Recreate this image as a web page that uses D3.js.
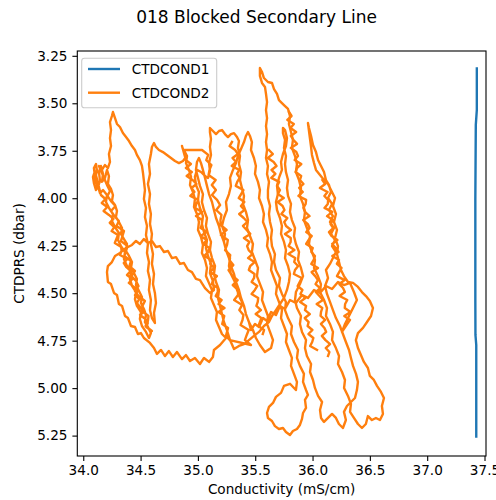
<!DOCTYPE html>
<html>
<head>
<meta charset="utf-8">
<script src="https://cdn.jsdelivr.net/npm/d3@7"></script>
<style>
  body { margin: 0; background: #fff; }
  svg { display: block; }
  text { font-family: "DejaVu Sans", sans-serif; fill: #000; }
</style>
</head>
<body>
<svg id="chart" width="496" height="500"></svg>
<script>
// ---- Data: [conductivity (mS/cm), pressure (dbar)] ----
const seriesNames = ["CTDCOND1", "CTDCOND2"];
const xTicks = [34.0, 34.5, 35.0, 35.5, 36.0, 36.5, 37.0, 37.5];
const yTicks = [3.25, 3.50, 3.75, 4.00, 4.25, 4.50, 4.75, 5.00, 5.25];

// primary sensor: nearly constant reading
const ctdcond1 = [
  [37.433, 3.316], [37.433, 3.535], [37.424, 3.614], [37.420, 4.009],
  [37.420, 4.536], [37.421, 4.720], [37.428, 4.773], [37.428, 5.255]
];

// secondary sensor, successive up/down passes of the soak
const castA = [[34.120,3.930],[34.102,3.883],[34.093,3.841],[34.111,3.820],[34.120,3.857],[34.102,3.899],[34.128,3.941],[34.146,3.909],[34.137,3.862],[34.154,3.830],[34.172,3.872],[34.163,3.914],[34.189,3.893],[34.207,3.851],[34.224,3.883],[34.215,3.925],[34.242,3.951],[34.259,3.983],[34.250,4.015],[34.277,4.036],[34.294,4.067],[34.285,4.099],[34.311,4.125],[34.338,4.157],[34.329,4.188],[34.355,4.215],[34.381,4.241],[34.373,4.278],[34.399,4.304],[34.425,4.336],[34.416,4.367],[34.442,4.394],[34.468,4.425],[34.460,4.457],[34.486,4.489],[34.512,4.520],[34.503,4.552],[34.529,4.583],[34.547,4.615],[34.538,4.652],[34.564,4.678],[34.590,4.710]];
const castB = [[34.573,4.736],[34.547,4.704],[34.512,4.673],[34.494,4.636],[34.503,4.599],[34.468,4.567],[34.451,4.531],[34.460,4.494],[34.425,4.462],[34.407,4.425],[34.416,4.389],[34.381,4.357],[34.355,4.320],[34.364,4.283],[34.329,4.252],[34.303,4.220],[34.311,4.183],[34.277,4.152],[34.250,4.120],[34.259,4.083],[34.224,4.051],[34.198,4.020],[34.207,3.983],[34.172,3.957],[34.146,3.973],[34.128,3.936],[34.111,3.957],[34.093,3.920],[34.085,3.888],[34.102,3.857]];
const castR = [[34.154,3.983],[34.193,4.004],[34.161,4.025],[34.209,4.046],[34.177,4.067],[34.224,4.088],[34.263,4.109],[34.231,4.130],[34.270,4.152],[34.247,4.173],[34.303,4.194],[34.289,4.215],[34.275,4.236],[34.331,4.257],[34.334,4.278],[34.320,4.299],[34.385,4.320],[34.353,4.341],[34.374,4.362],[34.413,4.383],[34.381,4.404],[34.428,4.425],[34.397,4.446],[34.444,4.468],[34.474,4.489],[34.451,4.510],[34.489,4.531],[34.467,4.552],[34.496,4.573],[34.535,4.594],[34.495,4.615],[34.542,4.636],[34.563,4.657],[34.549,4.678],[34.596,4.699]];
const castS = [[34.599,4.699],[34.543,4.673],[34.564,4.646],[34.569,4.620],[34.512,4.594],[34.516,4.567],[34.538,4.541],[34.482,4.515],[34.451,4.489],[34.482,4.462],[34.460,4.436],[34.420,4.410],[34.451,4.383],[34.403,4.357],[34.416,4.331],[34.359,4.304],[34.373,4.278],[34.386,4.252],[34.329,4.225],[34.342,4.199],[34.355,4.173],[34.290,4.146],[34.311,4.120],[34.272,4.094],[34.242,4.067],[34.281,4.041],[34.242,4.015],[34.211,3.988],[34.233,3.962],[34.211,3.936]];
const castC = [[34.137,3.830],[34.163,3.851],[34.189,3.825],[34.215,3.841],[34.233,3.809],[34.224,3.767],[34.242,3.725],[34.233,3.683],[34.242,3.641],[34.233,3.599],[34.250,3.567],[34.259,3.546],[34.277,3.578],[34.294,3.609],[34.320,3.625],[34.346,3.657],[34.373,3.678],[34.399,3.699],[34.425,3.725],[34.451,3.746],[34.468,3.772],[34.494,3.799],[34.512,3.830],[34.521,3.867],[34.529,3.909],[34.538,3.957],[34.529,4.004],[34.547,4.051],[34.538,4.099],[34.556,4.146],[34.547,4.194],[34.564,4.241],[34.556,4.288],[34.573,4.336],[34.564,4.383],[34.582,4.431],[34.573,4.483],[34.590,4.536],[34.582,4.589],[34.599,4.631]];
const castD = [[34.625,4.657],[34.617,4.604],[34.634,4.552],[34.625,4.499],[34.608,4.452],[34.617,4.399],[34.599,4.346],[34.608,4.294],[34.590,4.241],[34.599,4.188],[34.582,4.136],[34.590,4.083],[34.573,4.030],[34.582,3.978],[34.564,3.925],[34.582,3.872],[34.573,3.820],[34.590,3.767],[34.599,3.730],[34.617,3.709],[34.634,3.730],[34.660,3.746],[34.695,3.757],[34.730,3.772],[34.765,3.788],[34.800,3.804],[34.835,3.815],[34.870,3.804],[34.896,3.783],[34.878,3.757],[34.861,3.725]];
const castT = [[34.896,3.799],[34.939,3.820],[34.895,3.841],[34.947,3.862],[34.902,3.883],[34.954,3.904],[34.988,3.925],[34.944,3.946],[34.970,3.967],[34.934,3.988],[35.003,4.009],[34.986,4.030],[34.976,4.051],[35.036,4.072],[34.983,4.094],[35.036,4.115],[35.035,4.136],[35.025,4.157],[35.077,4.178],[35.024,4.199],[35.076,4.220],[35.049,4.241],[35.101,4.262],[35.091,4.283],[35.056,4.304],[35.117,4.325],[35.107,4.346],[35.142,4.367],[35.106,4.389],[35.166,4.410],[35.131,4.431],[35.122,4.452],[35.173,4.473],[35.173,4.494],[35.155,4.515],[35.207,4.536],[35.180,4.557],[35.232,4.578],[35.179,4.599],[35.230,4.620],[35.221,4.641],[35.212,4.662],[35.263,4.683],[35.254,4.704],[35.245,4.725],[35.279,4.747]];
const castU = [[35.463,4.773],[35.410,4.747],[35.426,4.720],[35.443,4.694],[35.372,4.668],[35.389,4.641],[35.397,4.615],[35.361,4.589],[35.386,4.562],[35.316,4.536],[35.350,4.510],[35.349,4.483],[35.304,4.457],[35.347,4.431],[35.294,4.404],[35.267,4.378],[35.309,4.352],[35.274,4.325],[35.282,4.299],[35.237,4.273],[35.254,4.246],[35.261,4.220],[35.200,4.194],[35.251,4.167],[35.198,4.141],[35.197,4.115],[35.205,4.088],[35.160,4.062],[35.194,4.036],[35.167,4.009],[35.123,3.983],[35.157,3.957],[35.121,3.930],[35.155,3.904],[35.093,3.878],[35.101,3.851],[35.118,3.825],[35.073,3.799],[35.090,3.772],[35.036,3.746]];
const castE = [[34.878,3.746],[34.905,3.778],[34.896,3.815],[34.922,3.851],[34.940,3.888],[34.931,3.930],[34.957,3.967],[34.974,4.004],[34.966,4.046],[34.992,4.083],[35.009,4.125],[35.001,4.167],[35.027,4.204],[35.044,4.246],[35.035,4.288],[35.062,4.325],[35.079,4.367],[35.070,4.410],[35.097,4.447],[35.123,4.483],[35.114,4.525],[35.140,4.562],[35.166,4.599],[35.158,4.641],[35.184,4.678],[35.210,4.715],[35.245,4.736]];
const castF = [[35.193,4.773],[35.140,4.799],[35.131,4.836],[35.097,4.862],[35.053,4.841],[35.018,4.873],[34.974,4.841],[34.931,4.857],[34.896,4.826],[34.861,4.847],[34.817,4.810],[34.782,4.836],[34.747,4.805],[34.713,4.831],[34.678,4.799],[34.643,4.820],[34.617,4.789],[34.582,4.762],[34.529,4.736],[34.503,4.710],[34.477,4.715],[34.451,4.678],[34.416,4.673],[34.390,4.631],[34.364,4.620],[34.338,4.567],[34.311,4.557],[34.294,4.510],[34.268,4.499],[34.242,4.452],[34.215,4.441],[34.207,4.389],[34.215,4.357],[34.250,4.336],[34.277,4.304],[34.320,4.288],[34.373,4.262]];
const castG = [[34.425,4.246],[34.460,4.225],[34.494,4.241],[34.529,4.215],[34.564,4.236],[34.599,4.225],[34.634,4.257],[34.669,4.252],[34.704,4.283],[34.739,4.278],[34.774,4.315],[34.809,4.310],[34.844,4.346],[34.878,4.341],[34.913,4.378],[34.948,4.389],[34.983,4.425],[35.018,4.431],[35.062,4.473],[35.105,4.499],[35.140,4.483],[35.131,4.436],[35.105,4.394],[35.114,4.346],[35.088,4.304],[35.070,4.262],[35.079,4.220],[35.053,4.178],[35.035,4.136],[35.044,4.094],[35.018,4.051],[35.001,4.009],[35.009,3.967],[34.983,3.930],[34.974,3.888],[34.992,3.851],[35.027,3.862],[35.062,3.883],[35.088,3.893],[35.105,3.856],[35.097,3.814],[35.114,3.772],[35.105,3.730],[35.114,3.688],[35.105,3.651],[35.105,3.630]];
const castH = [[35.131,3.646],[35.158,3.662],[35.184,3.646],[35.210,3.641],[35.236,3.662],[35.262,3.678],[35.288,3.662],[35.315,3.657],[35.341,3.678],[35.358,3.699],[35.349,3.735],[35.367,3.778],[35.358,3.820],[35.376,3.862],[35.367,3.904],[35.384,3.946],[35.402,3.988],[35.393,4.030],[35.419,4.072],[35.437,4.115],[35.428,4.157],[35.454,4.199],[35.480,4.241],[35.471,4.283],[35.498,4.325],[35.524,4.367],[35.515,4.410],[35.542,4.452],[35.568,4.494],[35.559,4.536],[35.585,4.578],[35.611,4.620],[35.603,4.662],[35.629,4.704],[35.655,4.747],[35.638,4.789]];
const castI = [[35.585,4.810],[35.541,4.773],[35.506,4.736],[35.480,4.694],[35.445,4.652],[35.419,4.610],[35.402,4.567],[35.367,4.525],[35.341,4.483],[35.323,4.441],[35.288,4.399],[35.271,4.357],[35.280,4.315],[35.245,4.273],[35.227,4.230],[35.236,4.188],[35.210,4.146],[35.227,4.104],[35.253,4.062],[35.245,4.020],[35.271,3.978],[35.288,3.936],[35.280,3.893],[35.306,3.851],[35.332,3.815],[35.349,3.778],[35.376,3.741],[35.402,3.704],[35.419,3.672],[35.437,3.651]];
const castJ = [[35.454,3.672],[35.471,3.704],[35.463,3.746],[35.489,3.788],[35.506,3.830],[35.498,3.872],[35.524,3.914],[35.541,3.957],[35.533,3.999],[35.559,4.041],[35.576,4.083],[35.568,4.125],[35.594,4.167],[35.611,4.209],[35.603,4.252],[35.629,4.294],[35.646,4.336],[35.638,4.378],[35.664,4.420],[35.690,4.462],[35.681,4.504],[35.707,4.546],[35.733,4.589],[35.725,4.631],[35.751,4.673],[35.777,4.715],[35.768,4.757],[35.794,4.799],[35.820,4.841],[35.812,4.883],[35.838,4.925],[35.864,4.967],[35.855,5.010]];
const castK = [[35.803,4.977],[35.751,4.988],[35.725,5.025],[35.681,5.046],[35.655,5.078],[35.620,5.099],[35.603,5.131],[35.611,5.157],[35.646,5.173],[35.672,5.200],[35.707,5.215],[35.742,5.210],[35.768,5.231],[35.803,5.247],[35.829,5.226],[35.864,5.215],[35.890,5.194],[35.908,5.162],[35.917,5.131],[35.943,5.104],[35.934,5.062],[35.960,5.036],[35.943,5.010],[35.917,4.967],[35.925,4.925],[35.890,4.883],[35.864,4.841],[35.873,4.799],[35.838,4.757],[35.812,4.715],[35.820,4.673],[35.786,4.631],[35.760,4.589],[35.768,4.546],[35.733,4.504],[35.707,4.462],[35.716,4.420],[35.681,4.378],[35.664,4.336],[35.672,4.294],[35.646,4.252],[35.638,4.209],[35.646,4.167],[35.629,4.125],[35.620,4.083],[35.629,4.041],[35.611,3.999],[35.611,3.957],[35.620,3.914],[35.603,3.872],[35.611,3.830],[35.594,3.788],[35.603,3.746],[35.594,3.704],[35.603,3.662],[35.594,3.620],[35.603,3.578],[35.594,3.536],[35.603,3.494],[35.594,3.451],[35.585,3.414],[35.559,3.393],[35.541,3.356],[35.541,3.314]];
const castL = [[35.559,3.335],[35.576,3.367],[35.611,3.388],[35.646,3.393],[35.664,3.425],[35.690,3.451],[35.707,3.483],[35.733,3.499],[35.760,3.515],[35.786,3.530],[35.803,3.567],[35.794,3.609],[35.812,3.651],[35.829,3.693],[35.820,3.735],[35.847,3.778],[35.864,3.820],[35.855,3.862],[35.882,3.904],[35.899,3.946],[35.890,3.988],[35.917,4.030],[35.934,4.072],[35.925,4.115],[35.951,4.157],[35.978,4.199],[35.969,4.241],[35.995,4.283],[36.021,4.325],[36.013,4.367],[36.047,4.410],[36.073,4.452],[36.065,4.494],[36.100,4.536],[36.126,4.578],[36.117,4.620],[36.152,4.662],[36.178,4.704],[36.170,4.747],[36.204,4.789],[36.231,4.831],[36.222,4.873],[36.257,4.915],[36.283,4.957],[36.275,4.999],[36.309,5.041],[36.335,5.083],[36.327,5.125],[36.361,5.157],[36.396,5.189],[36.431,5.210],[36.465,5.189]];
const castM = [[36.483,5.147],[36.518,5.168],[36.553,5.157],[36.588,5.168],[36.614,5.136],[36.605,5.094],[36.623,5.052],[36.597,5.020],[36.562,4.988],[36.535,4.957],[36.500,4.936],[36.483,4.894],[36.448,4.862],[36.422,4.826],[36.396,4.789],[36.378,4.747],[36.396,4.710],[36.440,4.683],[36.475,4.652],[36.510,4.620],[36.527,4.578],[36.500,4.541],[36.466,4.515],[36.431,4.494],[36.396,4.467],[36.353,4.446],[36.309,4.441],[36.274,4.410],[36.248,4.378],[36.231,4.336],[36.213,4.294],[36.222,4.252],[36.196,4.209],[36.213,4.167],[36.187,4.125],[36.204,4.083],[36.178,4.041],[36.196,3.999],[36.161,3.957],[36.135,3.925],[36.100,3.904],[36.065,3.878],[36.030,3.851],[36.013,3.815],[35.995,3.772],[35.987,3.730],[35.978,3.688],[35.969,3.646],[35.960,3.604]];
const castN = [[35.969,3.630],[35.987,3.672],[36.004,3.720],[36.030,3.757],[36.048,3.799],[36.074,3.830],[36.100,3.862],[36.117,3.904],[36.143,3.930],[36.161,3.967],[36.135,3.999],[36.170,4.030],[36.143,4.062],[36.178,4.094],[36.152,4.125],[36.187,4.157],[36.161,4.188],[36.196,4.220],[36.170,4.252],[36.204,4.283],[36.178,4.315],[36.152,4.346],[36.117,4.378],[36.135,4.420],[36.109,4.462],[36.126,4.504],[36.152,4.546],[36.178,4.589],[36.204,4.631],[36.239,4.673],[36.265,4.715],[36.291,4.757],[36.318,4.799],[36.335,4.841],[36.353,4.883],[36.379,4.925],[36.396,4.967],[36.387,5.010],[36.370,5.052],[36.335,5.073],[36.300,5.094],[36.274,5.125],[36.291,5.168],[36.265,5.210],[36.230,5.189],[36.204,5.157],[36.170,5.136],[36.135,5.157],[36.100,5.178],[36.074,5.157],[36.065,5.115],[36.083,5.073],[36.048,5.041],[36.021,4.999],[36.004,4.957]];
const castO = [[35.978,4.915],[35.987,4.873],[35.951,4.831],[35.934,4.789],[35.943,4.747],[35.908,4.704],[35.890,4.662],[35.899,4.620],[35.864,4.578],[35.847,4.536],[35.855,4.494],[35.890,4.452],[35.917,4.410],[35.899,4.367],[35.873,4.325],[35.882,4.283],[35.855,4.241],[35.838,4.199],[35.847,4.157],[35.820,4.115],[35.803,4.072],[35.812,4.030],[35.786,3.988],[35.777,3.946],[35.786,3.904],[35.768,3.862],[35.760,3.820],[35.768,3.778],[35.751,3.735],[35.760,3.693],[35.742,3.657],[35.742,3.630]];
const castP = [[35.760,3.641],[35.777,3.683],[35.768,3.725],[35.742,3.767],[35.725,3.809],[35.733,3.851],[35.707,3.893],[35.690,3.935],[35.698,3.978],[35.681,4.020],[35.690,4.062],[35.716,4.104],[35.733,4.146],[35.725,4.188],[35.751,4.230],[35.768,4.273],[35.760,4.315],[35.786,4.357],[35.803,4.399],[35.794,4.441],[35.777,4.483],[35.751,4.525],[35.716,4.557],[35.681,4.589],[35.646,4.620],[35.620,4.652],[35.576,4.673],[35.533,4.704],[35.489,4.725],[35.445,4.747],[35.402,4.768],[35.358,4.778],[35.315,4.794]];
const castQ = [[35.280,4.747],[35.253,4.694],[35.227,4.652],[35.210,4.610],[35.193,4.567],[35.175,4.525],[35.184,4.483],[35.158,4.441],[35.140,4.399],[35.149,4.357],[35.123,4.315],[35.105,4.273],[35.114,4.230],[35.088,4.188],[35.070,4.146],[35.079,4.104],[35.053,4.062],[35.035,4.020],[35.044,3.978],[35.018,3.935],[35.001,3.893],[34.983,3.851],[34.992,3.809],[35.009,3.788],[35.027,3.815],[35.044,3.851],[35.062,3.893],[35.079,3.935],[35.097,3.978],[35.123,4.020],[35.140,4.062],[35.158,4.104],[35.184,4.146],[35.201,4.188],[35.227,4.230],[35.245,4.273],[35.271,4.315],[35.288,4.357],[35.315,4.399],[35.332,4.441],[35.358,4.483],[35.376,4.525],[35.402,4.567],[35.419,4.610],[35.445,4.652],[35.463,4.694],[35.498,4.662],[35.533,4.678],[35.568,4.631],[35.603,4.646],[35.638,4.599],[35.681,4.615],[35.716,4.567],[35.760,4.583],[35.803,4.536],[35.855,4.552],[35.908,4.510],[35.960,4.525],[36.013,4.483],[36.065,4.499],[36.117,4.462],[36.170,4.478],[36.222,4.441],[36.274,4.457],[36.327,4.446],[36.361,4.494],[36.387,4.536],[36.353,4.578],[36.318,4.620],[36.283,4.662],[36.257,4.704]];
const castW = [[36.327,4.641],[36.277,4.620],[36.331,4.599],[36.281,4.578],[36.284,4.557],[36.303,4.536],[36.236,4.515],[36.282,4.494],[36.266,4.473],[36.234,4.452],[36.280,4.431],[36.213,4.410],[36.232,4.389],[36.253,4.367],[36.212,4.346],[36.231,4.325],[36.172,4.304],[36.227,4.283],[36.203,4.262],[36.171,4.241],[36.217,4.220],[36.166,4.199],[36.143,4.178],[36.180,4.157],[36.157,4.136],[36.176,4.115],[36.126,4.094],[36.172,4.072],[36.104,4.051],[36.133,4.030],[36.136,4.009],[36.103,3.988],[36.131,3.967],[36.064,3.946],[36.110,3.925],[36.086,3.904]];
const castV = [[35.620,3.746],[35.654,3.767],[35.610,3.788],[35.661,3.809],[35.686,3.830],[35.642,3.851],[35.676,3.872],[35.640,3.893],[35.709,3.914],[35.691,3.935],[35.716,3.957],[35.698,3.978],[35.749,3.999],[35.696,4.020],[35.739,4.041],[35.755,4.062],[35.728,4.083],[35.780,4.104],[35.753,4.125],[35.769,4.146],[35.812,4.167],[35.759,4.188],[35.810,4.209],[35.809,4.230],[35.791,4.252],[35.842,4.273],[35.789,4.294],[35.849,4.315],[35.840,4.336],[35.874,4.357],[35.847,4.378],[35.837,4.399],[35.906,4.420],[35.888,4.441],[35.870,4.462],[35.912,4.483],[35.894,4.504],[35.937,4.525],[35.892,4.546],[35.944,4.567],[35.934,4.589],[35.977,4.610],[35.932,4.631],[35.966,4.652],[35.957,4.673],[35.999,4.694],[35.964,4.715],[36.007,4.736],[35.997,4.757],[35.979,4.778],[36.039,4.799]];
const castX = [[35.297,3.704],[35.276,3.725],[35.325,3.746],[35.349,3.767],[35.302,3.788],[35.333,3.809],[35.295,3.830],[35.361,3.851],[35.341,3.872],[35.364,3.893],[35.343,3.914],[35.330,3.935],[35.397,3.957],[35.377,3.978],[35.356,3.999],[35.405,4.020],[35.375,4.041],[35.406,4.062],[35.360,4.083],[35.400,4.104],[35.432,4.125],[35.393,4.146],[35.425,4.167],[35.457,4.188],[35.401,4.209],[35.450,4.230],[35.429,4.252],[35.443,4.273],[35.475,4.294],[35.437,4.315],[35.494,4.336],[35.456,4.357],[35.444,4.378],[35.494,4.399],[35.490,4.420],[35.469,4.441],[35.518,4.462],[35.497,4.483],[35.468,4.504],[35.526,4.525],[35.522,4.546],[35.510,4.567],[35.550,4.589],[35.504,4.610],[35.553,4.631],[35.541,4.652],[35.528,4.673],[35.577,4.694],[35.566,4.715]];
const castY = [[35.795,3.546],[35.817,3.567],[35.780,3.588],[35.837,3.609],[35.808,3.630],[35.857,3.651],[35.810,3.672],[35.834,3.693],[35.865,3.714],[35.810,3.735],[35.859,3.757],[35.873,3.778],[35.844,3.799],[35.902,3.820],[35.864,3.841],[35.852,3.862],[35.901,3.883],[35.890,3.904],[35.921,3.925],[35.883,3.946],[35.915,3.967],[35.877,3.988],[35.944,4.009],[35.940,4.030],[35.920,4.051],[35.934,4.072],[35.974,4.094],[35.919,4.115],[35.959,4.136],[35.974,4.157],[35.945,4.178],[35.993,4.199],[35.965,4.220],[35.944,4.241],[36.002,4.262],[35.990,4.283],[36.021,4.304],[36.010,4.325],[35.989,4.346],[36.048,4.367],[35.992,4.389],[36.023,4.410],[36.047,4.431],[36.026,4.452],[36.066,4.473],[36.028,4.494],[36.060,4.515],[36.091,4.536],[36.036,4.557],[36.085,4.578],[36.074,4.599],[36.070,4.620],[36.110,4.641],[36.073,4.662],[36.104,4.683],[36.119,4.704],[36.081,4.725],[36.113,4.747],[36.153,4.768],[36.115,4.789],[36.147,4.810],[36.135,4.831]];

// logged record pieces (one continuous run plus separate stretches)
const ctdcond2 = [
  [].concat(castA, castB, castR, castS, castC, castD, castT, castU, castE, castF,
            castG, castH, castI, castJ, castK, castL, castM, castN, castO, castP,
            castQ, castW),
  castV, castX, castY
];

// ---- Layout ----
const svg = d3.select("#chart");
const plot = { left: 77.3, top: 51, right: 486, bottom: 456 };
const colors = ["#1f77b4", "#ff7f0e"];

const x = d3.scaleLinear().domain([33.948, 37.513]).range([plot.left, plot.right]);
const y = d3.scaleLinear().domain([3.2247, 5.3574]).range([plot.top, plot.bottom]);

svg.append("rect").attr("width", 496).attr("height", 500).attr("fill", "#fff");

svg.append("defs").append("clipPath").attr("id", "plotClip")
  .append("rect")
  .attr("x", plot.left).attr("y", plot.top)
  .attr("width", plot.right - plot.left).attr("height", plot.bottom - plot.top);

const line = d3.line().x(d => x(d[0])).y(d => y(d[1]));

const lines = svg.append("g").attr("clip-path", "url(#plotClip)");
const seriesPieces = [[ctdcond1], ctdcond2];
seriesPieces.forEach((pieces, i) => {
  pieces.forEach(piece => {
    lines.append("path")
      .datum(piece)
      .attr("d", line)
      .attr("fill", "none")
      .attr("stroke", colors[i])
      .attr("stroke-width", 2.4)
      .attr("stroke-linejoin", "round")
      .attr("stroke-linecap", "square");
  });
});

// ---- Axes ----
const fontSize = "13.6px";
const xAxis = svg.append("g")
  .attr("transform", `translate(0,${plot.bottom})`)
  .call(d3.axisBottom(x).tickValues(xTicks).tickFormat(d3.format(".1f"))
    .tickSize(4.9).tickPadding(4.9));
const yAxis = svg.append("g")
  .attr("transform", `translate(${plot.left},0)`)
  .call(d3.axisLeft(y).tickValues(yTicks).tickFormat(d3.format(".2f"))
    .tickSize(4.9).tickPadding(4.9));

[xAxis, yAxis].forEach(g => {
  g.select(".domain").remove();
  g.selectAll(".tick line").attr("stroke", "#000").attr("stroke-width", 1.1);
  g.selectAll(".tick text").attr("fill", "#000")
    .style("font-family", '"DejaVu Sans", sans-serif').style("font-size", fontSize);
});

// frame
svg.append("rect")
  .attr("x", plot.left).attr("y", plot.top)
  .attr("width", plot.right - plot.left).attr("height", plot.bottom - plot.top)
  .attr("fill", "none").attr("stroke", "#000").attr("stroke-width", 1.1);

// ---- Labels ----
svg.append("text")
  .attr("x", 256.5).attr("y", 23)
  .attr("text-anchor", "middle")
  .style("font-size", "17px")
  .text("018 Blocked Secondary Line");

svg.append("text")
  .attr("x", (plot.left + plot.right) / 2).attr("y", 494)
  .attr("text-anchor", "middle")
  .style("font-size", fontSize)
  .text("Conductivity (mS/cm)");

svg.append("text")
  .attr("transform", `translate(24,${(plot.top + plot.bottom) / 2}) rotate(-90)`)
  .attr("text-anchor", "middle")
  .style("font-size", fontSize)
  .text("CTDPRS (dbar)");

// ---- Legend ----
const legend = svg.append("g");
legend.append("rect")
  .attr("x", 81.7).attr("y", 58.3)
  .attr("width", 135).attr("height", 49.4)
  .attr("rx", 2.8).attr("ry", 2.8)
  .attr("fill", "#fff").attr("fill-opacity", 0.8)
  .attr("stroke", "#cccccc").attr("stroke-width", 1.1);

seriesNames.forEach((name, i) => {
  const ly = 69 + i * 23.7;
  legend.append("line")
    .attr("x1", 88).attr("x2", 120)
    .attr("y1", ly).attr("y2", ly)
    .attr("stroke", colors[i]).attr("stroke-width", 2.4);
  legend.append("text")
    .attr("x", 131.7).attr("y", ly)
    .attr("dy", "0.36em")
    .style("font-size", fontSize)
    .text(name);
});
</script>
</body>
</html>
